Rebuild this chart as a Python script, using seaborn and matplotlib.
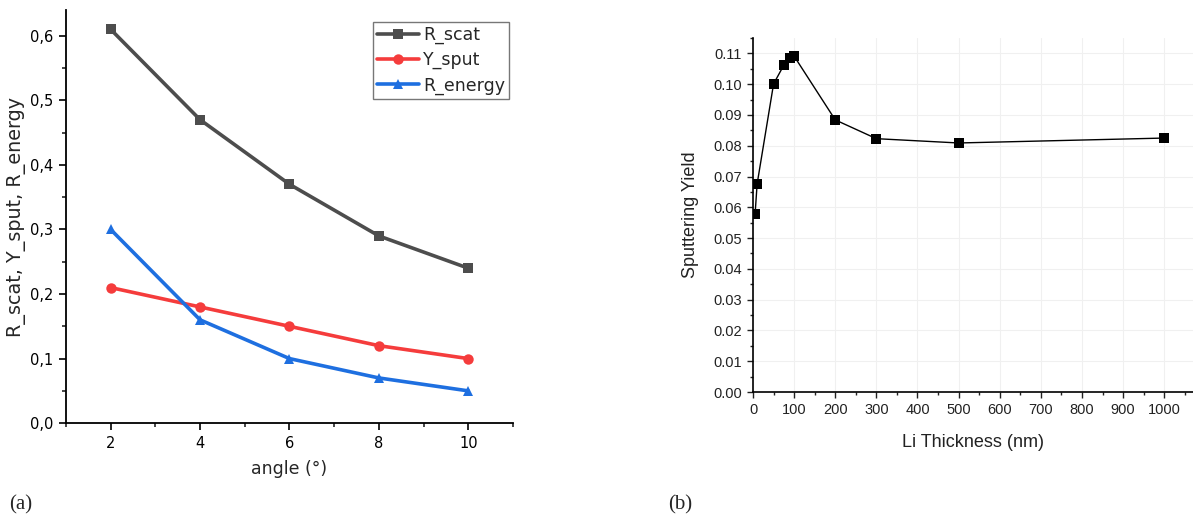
import pandas as pd
import matplotlib.pyplot as plt
import seaborn as sns
from matplotlib.ticker import MultipleLocator

# Panel (a) data
angles = [2, 4, 6, 8, 10]
r_scat = [0.61, 0.47, 0.37, 0.29, 0.24]
y_sput = [0.21, 0.18, 0.15, 0.12, 0.10]
r_energy = [0.30, 0.16, 0.10, 0.07, 0.05]

# Panel (b) data
li_thickness = [5, 10, 50, 75, 90, 100, 200, 300, 500, 1000]
sput_yield = [0.0578, 0.0676, 0.1001, 0.1062, 0.1084, 0.1091, 0.0884, 0.0823, 0.0809, 0.0825]

sns.set_theme(style="ticks")
plt.rcParams["font.family"] = ["DejaVu Sans"]

fig = plt.figure(figsize=(11.93, 5.25), dpi=100)

# ---- (a) ----
ax1 = fig.add_axes([0.0553, 0.194, 0.3747, 0.787])
series = [("R_scat", r_scat, "#4d4d4d", "s"),
          ("Y_sput", y_sput, "#f53c3c", "o"),
          ("R_energy", r_energy, "#1e6fe0", "^")]
for name, vals, col, mk in series:
    df = pd.DataFrame({"angle": angles, "value": vals})
    sns.lineplot(data=df, x="angle", y="value", ax=ax1, color=col, marker=mk,
                 markersize=7.5, markeredgewidth=0, linewidth=2.6, label=name)

ax1.set_xlim(1, 11)
ax1.set_ylim(0, 0.64)
ax1.set_xticks([2, 4, 6, 8, 10])
ax1.xaxis.set_minor_locator(MultipleLocator(1))
ax1.yaxis.set_major_locator(MultipleLocator(0.1))
ax1.yaxis.set_minor_locator(MultipleLocator(0.05))
ax1.set_yticklabels([f"{v:.1f}".replace(".", ",") for v in ax1.get_yticks()])
ax1.tick_params(which="major", direction="out", length=5, width=1.2, labelsize=10.5,
                colors="black", pad=4)
ax1.tick_params(which="minor", direction="out", length=3, width=1.2)
for s in ["top", "right"]:
    ax1.spines[s].set_visible(False)
for s in ["left", "bottom"]:
    ax1.spines[s].set_linewidth(1.3)
    ax1.spines[s].set_color("black")
ax1.set_xlabel("angle (°)", fontsize=12.5, labelpad=7)
ax1.set_ylabel("R_scat, Y_sput, R_energy", fontsize=13.8, labelpad=3)
leg = ax1.legend(loc="upper right", fontsize=12.5, frameon=True, fancybox=False,
                 handlelength=2.4, handletextpad=0.25, borderpad=0.25, labelspacing=0.4,
                 borderaxespad=0.0, bbox_to_anchor=(0.992, 0.972))
leg.get_frame().set_edgecolor("#555555")
leg.get_frame().set_linewidth(1.0)

# ---- (b) ----
ax2 = fig.add_axes([0.6312, 0.2533, 0.3688, 0.6743])
df2 = pd.DataFrame({"thickness": li_thickness, "yield": sput_yield})
sns.lineplot(data=df2, x="thickness", y="yield", ax=ax2, color="black", marker="s",
             markersize=7.5, markeredgewidth=0, linewidth=1.0)
ax2.set_xlim(0, 1070)
ax2.set_ylim(0, 0.115)
ax2.xaxis.set_major_locator(MultipleLocator(100))
ax2.xaxis.set_minor_locator(MultipleLocator(50))
ax2.yaxis.set_major_locator(MultipleLocator(0.01))
ax2.yaxis.set_minor_locator(MultipleLocator(0.005))
ax2.set_yticklabels([f"{v:.2f}" for v in ax2.get_yticks()], family="Liberation Sans")
ax2.set_xticklabels([f"{int(v)}" for v in ax2.get_xticks()], family="Liberation Sans")
ax2.grid(True, which="major", color="#f0f0f0", linewidth=0.8)
ax2.tick_params(which="major", direction="out", length=4, width=1.0, labelsize=10.5,
                colors="#222222", pad=4)
ax2.tick_params(which="minor", direction="out", length=2.5, width=1.0, colors="#222222")
for s in ["top", "right"]:
    ax2.spines[s].set_visible(False)
for s in ["left", "bottom"]:
    ax2.spines[s].set_linewidth(1.2)
    ax2.spines[s].set_color("black")
ax2.set_xlabel("Li Thickness (nm)", fontsize=13, family="Liberation Sans", color="#222222", labelpad=12)
ax2.set_ylabel("Sputtering Yield", fontsize=13, family="Liberation Sans", color="#222222", labelpad=10)

fig.text(0.008, 0.03, "(a)", fontsize=15, family="Liberation Serif")
fig.text(0.56, 0.03, "(b)", fontsize=15, family="Liberation Serif")

plt.savefig("out.png", dpi=100)
plt.close()
